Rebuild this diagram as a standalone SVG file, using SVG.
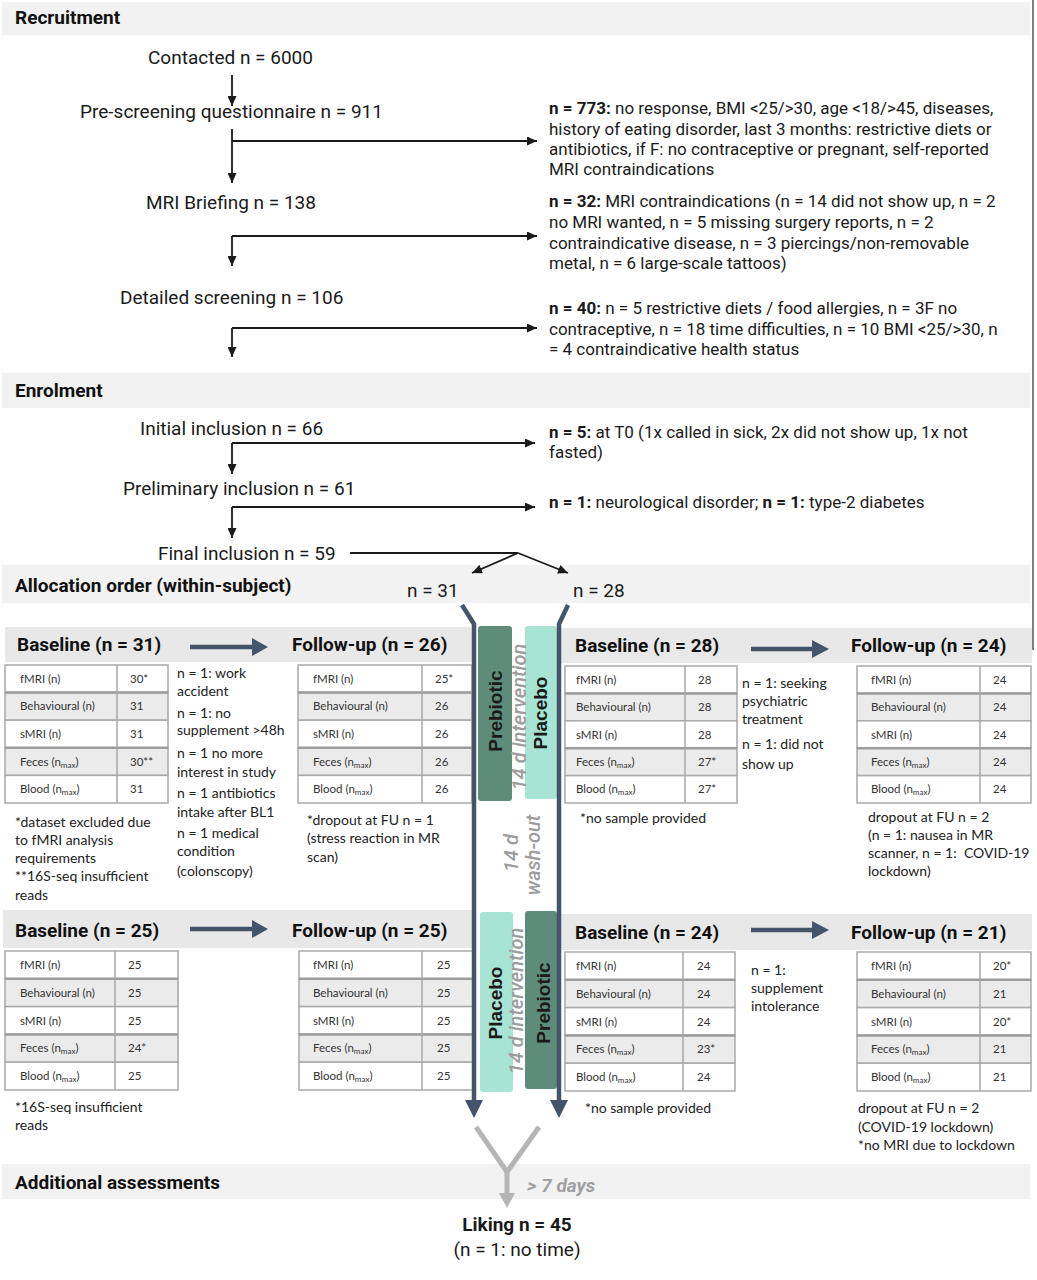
<svg xmlns="http://www.w3.org/2000/svg" width="1037" height="1280" viewBox="0 0 1037 1280">
<defs>
<style>
.band{fill:#f2f2f2}
.hband{fill:#e8e8e8}
.flow{font-family:Roboto,"Liberation Sans",sans-serif;font-size:19px;fill:#1a1a1a}
.side{font-family:Roboto,"Liberation Sans",sans-serif;font-size:17px;fill:#1a1a1a}
.sec{font-family:Roboto,"Liberation Sans",sans-serif;font-size:19px;font-weight:700;fill:#111}
.hdr{font-family:Roboto,"Liberation Sans",sans-serif;font-size:19px;font-weight:700;fill:#111}
.note{font-family:Lato,"Liberation Sans",sans-serif;font-size:14px;fill:#222}
.cell{font-family:Lato,"Liberation Sans",sans-serif;font-size:11.5px;fill:#333}
.sub{font-size:8px}
.rw{fill:#ffffff;stroke:#a9a9a9;stroke-width:1.5}
.rg{fill:#ebebeb;stroke:#a9a9a9;stroke-width:1.5}
.thk{stroke:#9c9c9c;stroke-width:2.5}
.div{stroke:#a9a9a9;stroke-width:1.5}
.rot{font-family:"Liberation Sans",Arial,sans-serif;font-size:19px;font-weight:700;fill:#1a1a1a}
.ital{font-family:Roboto,"Liberation Sans",sans-serif;font-style:italic;font-weight:500;font-size:20px;fill:#9c9c9c}
.b{font-weight:700}
.ln{stroke:#1a1a1a;stroke-width:1.8;fill:none}
.slate{stroke:#44546a;stroke-width:4.5;fill:none}
.slatef{fill:#44546a}
.grayl{stroke:#b5b5b5;stroke-width:5;fill:none}
.pre{fill:#5e8c7a}
.pla{fill:#a7e4d3}
</style>
<marker id="ah" markerUnits="userSpaceOnUse" markerWidth="10" markerHeight="9" refX="10" refY="4.5" orient="auto">
<path d="M0,0 L10,4.5 L0,9 z" fill="#1a1a1a"/>
</marker>
</defs>

<!-- section bands -->
<g id="bands">
<rect class="band" x="2" y="2" width="1028" height="33"/>
<rect class="band" x="2" y="373" width="1028" height="35"/>
<rect class="band" x="2" y="565" width="1028" height="38"/>
<rect class="band" x="2" y="1164" width="1028" height="35"/>
<line x1="1033" y1="0" x2="1033" y2="650" stroke="#555" stroke-width="1.5"/>
<text class="sec" x="15" y="24">Recruitment</text>
<text class="sec" x="15" y="397">Enrolment</text>
<text class="sec" x="15" y="592">Allocation order (within-subject)</text>
<text class="sec" x="15" y="1189">Additional assessments</text>
</g>

<!-- recruitment nodes -->
<g id="n-contacted"><text class="flow" x="148" y="64">Contacted n = 6000</text></g>
<g id="n-prescreen"><text class="flow" x="80" y="118">Pre-screening questionnaire n = 911</text></g>
<g id="n-briefing"><text class="flow" x="146" y="209">MRI Briefing n = 138</text></g>
<g id="n-detailed"><text class="flow" x="120" y="304">Detailed screening n = 106</text></g>

<g id="n-ex773">
<text class="side" x="549" y="114"><tspan class="b">n = 773:</tspan> no response, BMI &lt;25/&gt;30, age &lt;18/&gt;45, diseases,</text>
<text class="side" x="549" y="134.5">history of eating disorder, last 3 months: restrictive diets or</text>
<text class="side" x="549" y="155">antibiotics, if F: no contraceptive or pregnant, self-reported</text>
<text class="side" x="549" y="175">MRI contraindications</text>
</g>
<g id="n-ex32">
<text class="side" x="549" y="207"><tspan class="b">n = 32:</tspan> MRI contraindications (n = 14 did not show up, n = 2</text>
<text class="side" x="549" y="227.5">no MRI wanted, n = 5 missing surgery reports, n = 2</text>
<text class="side" x="549" y="248.5">contraindicative disease, n = 3 piercings/non-removable</text>
<text class="side" x="549" y="269">metal, n = 6 large-scale tattoos)</text>
</g>
<g id="n-ex40">
<text class="side" x="549" y="314"><tspan class="b">n = 40:</tspan> n = 5 restrictive diets / food allergies, n = 3F no</text>
<text class="side" x="549" y="334.5">contraceptive, n = 18 time difficulties, n = 10 BMI &lt;25/&gt;30, n</text>
<text class="side" x="549" y="355">= 4 contraindicative health status</text>
</g>

<!-- enrolment nodes -->
<g id="n-initial"><text class="flow" x="140" y="435">Initial inclusion n = 66</text></g>
<g id="n-prelim"><text class="flow" x="123" y="495">Preliminary inclusion n = 61</text></g>
<g id="n-final"><text class="flow" x="158" y="560">Final inclusion n = 59</text></g>
<g id="n-ex5">
<text class="side" x="549" y="438"><tspan class="b">n = 5:</tspan> at T0 (1x called in sick, 2x did not show up, 1x not</text>
<text class="side" x="549" y="458">fasted)</text>
</g>
<g id="n-ex1">
<text class="side" x="549" y="508"><tspan class="b">n = 1:</tspan> neurological disorder; <tspan class="b">n = 1:</tspan> type-2 diabetes</text>
</g>
<g id="n-alloc31"><text class="flow" x="407" y="597">n = 31</text></g>
<g id="n-alloc28"><text class="flow" x="573" y="597">n = 28</text></g>

<!-- intervention bars -->
<g id="bar-pre1"><rect class="pre" x="478" y="626" width="34" height="175" rx="3"/><text class="rot" transform="translate(502,711) rotate(-90)" text-anchor="middle">Prebiotic</text></g>
<g id="bar-pla1"><rect class="pla" x="525" y="626" width="32" height="173" rx="3"/><text class="rot" transform="translate(547,713) rotate(-90)" text-anchor="middle">Placebo</text></g>
<g id="lbl-int1"><text class="ital" transform="translate(526,717) rotate(-90)" text-anchor="middle">14 d intervention</text></g>
<g id="lbl-wash"><text class="ital" transform="translate(518,853) rotate(-90)" text-anchor="middle">14 d</text><text class="ital" transform="translate(540,855) rotate(-90)" text-anchor="middle">wash-out</text></g>
<g id="bar-pla2"><rect class="pla" x="480" y="912" width="33" height="180" rx="3"/><text class="rot" transform="translate(502,1003) rotate(-90)" text-anchor="middle">Placebo</text></g>
<g id="bar-pre2"><rect class="pre" x="525" y="911" width="32" height="178" rx="3"/><text class="rot" transform="translate(550,1003) rotate(-90)" text-anchor="middle">Prebiotic</text></g>
<g id="lbl-int2"><text class="ital" transform="translate(523,1001) rotate(-90)" text-anchor="middle">14 d intervention</text></g>

<!-- header bands -->
<g id="hdr1L"><rect class="hband" x="5" y="627" width="468" height="35"/>
<text class="hdr" x="17" y="651">Baseline (n = 31)</text><text class="hdr" x="292" y="651">Follow-up (n = 26)</text></g>
<g id="hdr1R"><rect class="hband" x="559" y="628" width="473" height="35"/>
<text class="hdr" x="575" y="652">Baseline (n = 28)</text><text class="hdr" x="851" y="652">Follow-up (n = 24)</text></g>
<g id="hdr2L"><rect class="hband" x="3" y="910" width="470" height="38"/>
<text class="hdr" x="15" y="937">Baseline (n = 25)</text><text class="hdr" x="292" y="937">Follow-up (n = 25)</text></g>
<g id="hdr2R"><rect class="hband" x="559" y="914" width="473" height="36"/>
<text class="hdr" x="575" y="939">Baseline (n = 24)</text><text class="hdr" x="851" y="939">Follow-up (n = 21)</text></g>

<!-- tables -->
<g id="t-b31" transform="translate(5,665)">
<rect class="rw" x="0" y="0" width="163" height="27.6"/><rect class="rg" x="0" y="27.6" width="163" height="27.6"/><rect class="rw" x="0" y="55.2" width="163" height="27.6"/><rect class="rg" x="0" y="82.8" width="163" height="27.6"/><rect class="rw" x="0" y="110.4" width="163" height="27.6"/>
<line class="thk" x1="0" y1="27.6" x2="163" y2="27.6"/><line class="thk" x1="0" y1="82.8" x2="163" y2="82.8"/><line class="div" x1="112" y1="0" x2="112" y2="138"/>
<text class="cell" x="15" y="17.8">fMRI (n)</text><text class="cell" x="15" y="45.4">Behavioural (n)</text><text class="cell" x="15" y="73">sMRI (n)</text><text class="cell" x="15" y="100.6">Feces (n<tspan class="sub" dy="2">max</tspan><tspan dy="-2">)</tspan></text><text class="cell" x="15" y="128.2">Blood (n<tspan class="sub" dy="2">max</tspan><tspan dy="-2">)</tspan></text>
<text class="cell" x="125" y="17.8">30*</text><text class="cell" x="125" y="45.4">31</text><text class="cell" x="125" y="73">31</text><text class="cell" x="125" y="100.6">30**</text><text class="cell" x="125" y="128.2">31</text>
</g>
<g id="t-f26" transform="translate(298,665)">
<rect class="rw" x="0" y="0" width="174" height="27.6"/><rect class="rg" x="0" y="27.6" width="174" height="27.6"/><rect class="rw" x="0" y="55.2" width="174" height="27.6"/><rect class="rg" x="0" y="82.8" width="174" height="27.6"/><rect class="rw" x="0" y="110.4" width="174" height="27.6"/>
<line class="thk" x1="0" y1="27.6" x2="174" y2="27.6"/><line class="thk" x1="0" y1="82.8" x2="174" y2="82.8"/><line class="div" x1="124" y1="0" x2="124" y2="138"/>
<text class="cell" x="15" y="17.8">fMRI (n)</text><text class="cell" x="15" y="45.4">Behavioural (n)</text><text class="cell" x="15" y="73">sMRI (n)</text><text class="cell" x="15" y="100.6">Feces (n<tspan class="sub" dy="2">max</tspan><tspan dy="-2">)</tspan></text><text class="cell" x="15" y="128.2">Blood (n<tspan class="sub" dy="2">max</tspan><tspan dy="-2">)</tspan></text>
<text class="cell" x="137" y="17.8">25*</text><text class="cell" x="137" y="45.4">26</text><text class="cell" x="137" y="73">26</text><text class="cell" x="137" y="100.6">26</text><text class="cell" x="137" y="128.2">26</text>
</g>
<g id="t-b28" transform="translate(565,666)">
<rect class="rw" x="0" y="0" width="172" height="27.4"/><rect class="rg" x="0" y="27.4" width="172" height="27.4"/><rect class="rw" x="0" y="54.8" width="172" height="27.4"/><rect class="rg" x="0" y="82.2" width="172" height="27.4"/><rect class="rw" x="0" y="109.6" width="172" height="27.4"/>
<line class="thk" x1="0" y1="27.4" x2="172" y2="27.4"/><line class="thk" x1="0" y1="82.2" x2="172" y2="82.2"/><line class="div" x1="120" y1="0" x2="120" y2="137"/>
<text class="cell" x="11" y="17.7">fMRI (n)</text><text class="cell" x="11" y="45.1">Behavioural (n)</text><text class="cell" x="11" y="72.5">sMRI (n)</text><text class="cell" x="11" y="99.9">Feces (n<tspan class="sub" dy="2">max</tspan><tspan dy="-2">)</tspan></text><text class="cell" x="11" y="127.3">Blood (n<tspan class="sub" dy="2">max</tspan><tspan dy="-2">)</tspan></text>
<text class="cell" x="133" y="17.7">28</text><text class="cell" x="133" y="45.1">28</text><text class="cell" x="133" y="72.5">28</text><text class="cell" x="133" y="99.9">27*</text><text class="cell" x="133" y="127.3">27*</text>
</g>
<g id="t-f24" transform="translate(857,666)">
<rect class="rw" x="0" y="0" width="174" height="27.4"/><rect class="rg" x="0" y="27.4" width="174" height="27.4"/><rect class="rw" x="0" y="54.8" width="174" height="27.4"/><rect class="rg" x="0" y="82.2" width="174" height="27.4"/><rect class="rw" x="0" y="109.6" width="174" height="27.4"/>
<line class="thk" x1="0" y1="27.4" x2="174" y2="27.4"/><line class="thk" x1="0" y1="82.2" x2="174" y2="82.2"/><line class="div" x1="123" y1="0" x2="123" y2="137"/>
<text class="cell" x="14" y="17.7">fMRI (n)</text><text class="cell" x="14" y="45.1">Behavioural (n)</text><text class="cell" x="14" y="72.5">sMRI (n)</text><text class="cell" x="14" y="99.9">Feces (n<tspan class="sub" dy="2">max</tspan><tspan dy="-2">)</tspan></text><text class="cell" x="14" y="127.3">Blood (n<tspan class="sub" dy="2">max</tspan><tspan dy="-2">)</tspan></text>
<text class="cell" x="136" y="17.7">24</text><text class="cell" x="136" y="45.1">24</text><text class="cell" x="136" y="72.5">24</text><text class="cell" x="136" y="99.9">24</text><text class="cell" x="136" y="127.3">24</text>
</g>
<g id="t-b25" transform="translate(5,951)">
<rect class="rw" x="0" y="0" width="173" height="27.8"/><rect class="rg" x="0" y="27.8" width="173" height="27.8"/><rect class="rw" x="0" y="55.6" width="173" height="27.8"/><rect class="rg" x="0" y="83.4" width="173" height="27.8"/><rect class="rw" x="0" y="111.2" width="173" height="27.8"/>
<line class="thk" x1="0" y1="27.8" x2="173" y2="27.8"/><line class="thk" x1="0" y1="83.4" x2="173" y2="83.4"/><line class="div" x1="110" y1="0" x2="110" y2="139"/>
<text class="cell" x="15" y="17.9">fMRI (n)</text><text class="cell" x="15" y="45.7">Behavioural (n)</text><text class="cell" x="15" y="73.5">sMRI (n)</text><text class="cell" x="15" y="101.3">Feces (n<tspan class="sub" dy="2">max</tspan><tspan dy="-2">)</tspan></text><text class="cell" x="15" y="129.1">Blood (n<tspan class="sub" dy="2">max</tspan><tspan dy="-2">)</tspan></text>
<text class="cell" x="123" y="17.9">25</text><text class="cell" x="123" y="45.7">25</text><text class="cell" x="123" y="73.5">25</text><text class="cell" x="123" y="101.3">24*</text><text class="cell" x="123" y="129.1">25</text>
</g>
<g id="t-f25" transform="translate(299,951)">
<rect class="rw" x="0" y="0" width="174" height="27.8"/><rect class="rg" x="0" y="27.8" width="174" height="27.8"/><rect class="rw" x="0" y="55.6" width="174" height="27.8"/><rect class="rg" x="0" y="83.4" width="174" height="27.8"/><rect class="rw" x="0" y="111.2" width="174" height="27.8"/>
<line class="thk" x1="0" y1="27.8" x2="174" y2="27.8"/><line class="thk" x1="0" y1="83.4" x2="174" y2="83.4"/><line class="div" x1="123" y1="0" x2="123" y2="139"/>
<text class="cell" x="14" y="17.9">fMRI (n)</text><text class="cell" x="14" y="45.7">Behavioural (n)</text><text class="cell" x="14" y="73.5">sMRI (n)</text><text class="cell" x="14" y="101.3">Feces (n<tspan class="sub" dy="2">max</tspan><tspan dy="-2">)</tspan></text><text class="cell" x="14" y="129.1">Blood (n<tspan class="sub" dy="2">max</tspan><tspan dy="-2">)</tspan></text>
<text class="cell" x="138" y="17.9">25</text><text class="cell" x="138" y="45.7">25</text><text class="cell" x="138" y="73.5">25</text><text class="cell" x="138" y="101.3">25</text><text class="cell" x="138" y="129.1">25</text>
</g>
<g id="t-b24" transform="translate(565,952)">
<rect class="rw" x="0" y="0" width="170" height="27.8"/><rect class="rg" x="0" y="27.8" width="170" height="27.8"/><rect class="rw" x="0" y="55.6" width="170" height="27.8"/><rect class="rg" x="0" y="83.4" width="170" height="27.8"/><rect class="rw" x="0" y="111.2" width="170" height="27.8"/>
<line class="thk" x1="0" y1="27.8" x2="170" y2="27.8"/><line class="thk" x1="0" y1="83.4" x2="170" y2="83.4"/><line class="div" x1="118" y1="0" x2="118" y2="139"/>
<text class="cell" x="11" y="17.9">fMRI (n)</text><text class="cell" x="11" y="45.7">Behavioural (n)</text><text class="cell" x="11" y="73.5">sMRI (n)</text><text class="cell" x="11" y="101.3">Feces (n<tspan class="sub" dy="2">max</tspan><tspan dy="-2">)</tspan></text><text class="cell" x="11" y="129.1">Blood (n<tspan class="sub" dy="2">max</tspan><tspan dy="-2">)</tspan></text>
<text class="cell" x="132" y="17.9">24</text><text class="cell" x="132" y="45.7">24</text><text class="cell" x="132" y="73.5">24</text><text class="cell" x="132" y="101.3">23*</text><text class="cell" x="132" y="129.1">24</text>
</g>
<g id="t-f21" transform="translate(857,952)">
<rect class="rw" x="0" y="0" width="174" height="27.8"/><rect class="rg" x="0" y="27.8" width="174" height="27.8"/><rect class="rw" x="0" y="55.6" width="174" height="27.8"/><rect class="rg" x="0" y="83.4" width="174" height="27.8"/><rect class="rw" x="0" y="111.2" width="174" height="27.8"/>
<line class="thk" x1="0" y1="27.8" x2="174" y2="27.8"/><line class="thk" x1="0" y1="83.4" x2="174" y2="83.4"/><line class="div" x1="123" y1="0" x2="123" y2="139"/>
<text class="cell" x="14" y="17.9">fMRI (n)</text><text class="cell" x="14" y="45.7">Behavioural (n)</text><text class="cell" x="14" y="73.5">sMRI (n)</text><text class="cell" x="14" y="101.3">Feces (n<tspan class="sub" dy="2">max</tspan><tspan dy="-2">)</tspan></text><text class="cell" x="14" y="129.1">Blood (n<tspan class="sub" dy="2">max</tspan><tspan dy="-2">)</tspan></text>
<text class="cell" x="136" y="17.9">20*</text><text class="cell" x="136" y="45.7">21</text><text class="cell" x="136" y="73.5">20*</text><text class="cell" x="136" y="101.3">21</text><text class="cell" x="136" y="129.1">21</text>
</g>

<!-- notes -->
<g id="notes1L">
<text class="note" x="177" y="678">n = 1: work</text>
<text class="note" x="177" y="696">accident</text>
<text class="note" x="177" y="718">n = 1: no</text>
<text class="note" x="177" y="735">supplement &gt;48h</text>
<text class="note" x="177" y="758">n = 1 no more</text>
<text class="note" x="177" y="777">interest in study</text>
<text class="note" x="177" y="798">n = 1 antibiotics</text>
<text class="note" x="177" y="817">intake after BL1</text>
<text class="note" x="177" y="838">n = 1 medical</text>
<text class="note" x="177" y="856">condition</text>
<text class="note" x="177" y="876">(colonscopy)</text>
<text class="note" x="15" y="826.5">*dataset excluded due</text>
<text class="note" x="15" y="844.5">to fMRI analysis</text>
<text class="note" x="15" y="862.5">requirements</text>
<text class="note" x="15" y="880.5">**16S-seq insufficient</text>
<text class="note" x="15" y="899.5">reads</text>
<text class="note" x="307" y="824.5">*dropout at FU n = 1</text>
<text class="note" x="307" y="842.5">(stress reaction in MR</text>
<text class="note" x="307" y="861.5">scan)</text>
</g>
<g id="notes1R">
<text class="note" x="742" y="687.5">n = 1: seeking</text>
<text class="note" x="742" y="705.5">psychiatric</text>
<text class="note" x="742" y="723.5">treatment</text>
<text class="note" x="742" y="748.5">n = 1: did not</text>
<text class="note" x="742" y="768.5">show up</text>
<text class="note" x="580" y="822.5">*no sample provided</text>
<text class="note" x="868" y="821.5">dropout at FU n = 2</text>
<text class="note" x="868" y="839.5">(n = 1: nausea in MR</text>
<text class="note" x="868" y="857.5" xml:space="preserve">scanner, n = 1:  COVID-19</text>
<text class="note" x="868" y="875.5">lockdown)</text>
</g>
<g id="notes2L">
<text class="note" x="15" y="1111.5">*16S-seq insufficient</text>
<text class="note" x="15" y="1129.5">reads</text>
</g>
<g id="notes2R">
<text class="note" x="751" y="974.5">n = 1:</text>
<text class="note" x="751" y="992.5">supplement</text>
<text class="note" x="751" y="1010.5">intolerance</text>
<text class="note" x="585" y="1112.5">*no sample provided</text>
<text class="note" x="858" y="1112.5">dropout at FU n = 2</text>
<text class="note" x="858" y="1131.5">(COVID-19 lockdown)</text>
<text class="note" x="858" y="1149.5">*no MRI due to lockdown</text>
</g>

<!-- final -->
<g id="n-liking">
<text class="flow b" x="517" y="1231" text-anchor="middle">Liking n = 45</text>
<text class="flow" x="517" y="1256" text-anchor="middle">(n = 1: no time)</text>
</g>
<g id="lbl-7days"><text x="527" y="1192" font-family="Roboto, 'Liberation Sans', sans-serif" font-size="19" font-style="italic" font-weight="700" fill="#a0a0a0">&gt; 7 days</text></g>

<!-- connectors -->
<g id="connectors">
<path class="ln" d="M232,75 V106" marker-end="url(#ah)"/>
<path class="ln" d="M232,129 V183" marker-end="url(#ah)"/>
<path class="ln" d="M232,141 H537" marker-end="url(#ah)"/>
<path class="ln" d="M232,236 V266" marker-end="url(#ah)"/>
<path class="ln" d="M232,236 H537" marker-end="url(#ah)"/>
<path class="ln" d="M232,328 V357" marker-end="url(#ah)"/>
<path class="ln" d="M232,328 H537" marker-end="url(#ah)"/>
<path class="ln" d="M232,443 V474" marker-end="url(#ah)"/>
<path class="ln" d="M232,443 H535" marker-end="url(#ah)"/>
<path class="ln" d="M232,507 V538" marker-end="url(#ah)"/>
<path class="ln" d="M232,507 H535" marker-end="url(#ah)"/>
<path class="ln" d="M350,553 H518"/>
<path class="ln" d="M518,553 L472,573" marker-end="url(#ah)"/>
<path class="ln" d="M518,553 L568,573" marker-end="url(#ah)"/>
<path class="slate" d="M462,605 L474,624 V1101"/>
<polygon class="slatef" points="465,1100 483,1100 474,1118"/>
<path class="slate" d="M568,605 L559,624 V1101"/>
<polygon class="slatef" points="550,1100 568,1100 559,1118"/>
<path class="slate" d="M190,647 H253" stroke-width="5"/><polygon class="slatef" points="252,638 268,647 252,656"/>
<path class="slate" d="M751,649 H813" stroke-width="5"/><polygon class="slatef" points="812,640 829,649 812,658"/>
<path class="slate" d="M190,929 H253" stroke-width="5"/><polygon class="slatef" points="252,920 268,929 252,938"/>
<path class="slate" d="M751,930 H813" stroke-width="5"/><polygon class="slatef" points="812,921 829,930 812,939"/>
<path class="grayl" d="M476,1127 L507,1172 L539,1127"/>
<path class="grayl" d="M507,1170 V1195"/>
<polygon fill="#b5b5b5" points="499,1193 515,1193 507,1208"/>
</g>
</svg>
